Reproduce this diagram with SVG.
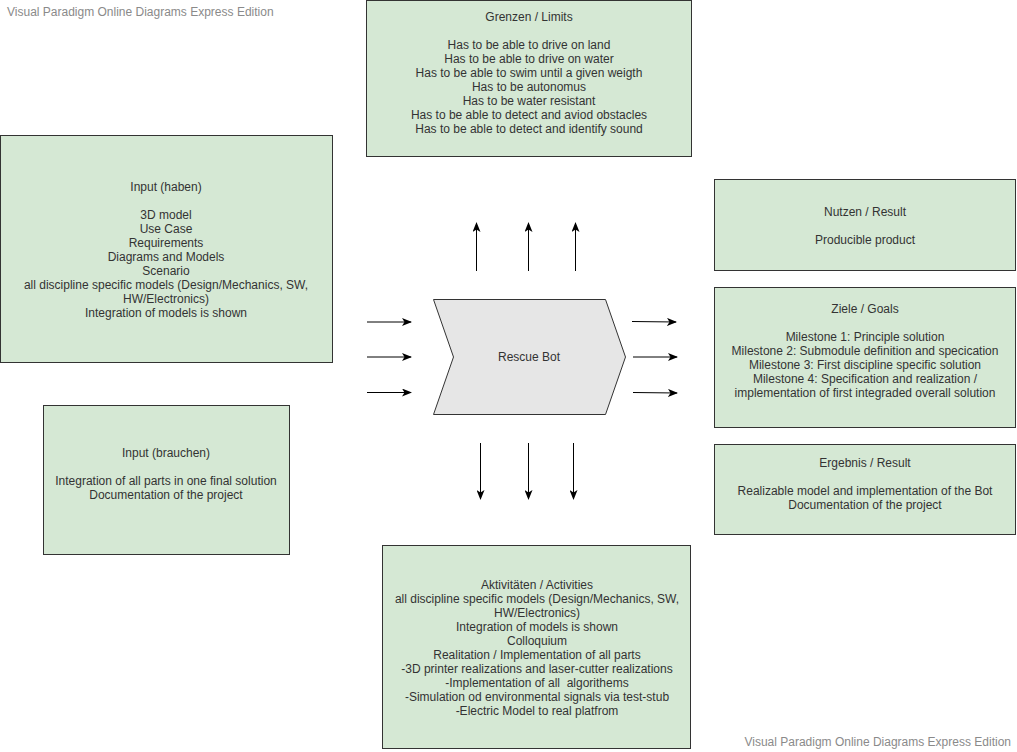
<svg xmlns="http://www.w3.org/2000/svg" width="1017" height="752" viewBox="0 0 1017 752">
  <style>
    .box { fill: #d5e8d4; stroke: #333333; stroke-width: 1; }
    .lbl { font-family: "Liberation Sans", Arial, sans-serif; font-size: 12px; fill: #333333; text-anchor: middle; }
    .wm { font-family: "Liberation Sans", Arial, sans-serif; font-size: 12px; fill: #8a8a8a; }
    .conn { stroke: #000000; stroke-width: 1; fill: none; marker-end: url(#arrow); }
  </style>
  <defs>
    <marker id="arrow" viewBox="0 0 10 8" refX="9" refY="4" markerWidth="10" markerHeight="8" markerUnits="userSpaceOnUse" orient="auto">
      <path d="M0,0 L10,4 L0,8 L2.5,4 z" fill="#000000"/>
    </marker>
  </defs>
  <rect width="1017" height="752" fill="#ffffff"/>

  <text class="wm" x="7" y="16">Visual Paradigm Online Diagrams Express Edition</text>
  <text class="wm" x="1011" y="746" text-anchor="end">Visual Paradigm Online Diagrams Express Edition</text>

  <g id="limits">
    <rect class="box" x="366.5" y="0.5" width="325" height="156"/>
    <text class="lbl" x="529" y="21">Grenzen / Limits</text>
    <text class="lbl" x="529" y="49">Has to be able to drive on land</text>
    <text class="lbl" x="529" y="63">Has to be able to drive on water</text>
    <text class="lbl" x="529" y="77">Has to be able to swim until a given weigth</text>
    <text class="lbl" x="529" y="91">Has to be autonomus</text>
    <text class="lbl" x="529" y="105">Has to be water resistant</text>
    <text class="lbl" x="529" y="119">Has to be able to detect and aviod obstacles</text>
    <text class="lbl" x="529" y="133">Has to be able to detect and identify sound</text>
  </g>

  <g id="input-haben">
    <rect class="box" x="0.5" y="135.5" width="332" height="227"/>
    <text class="lbl" x="166" y="191">Input (haben)</text>
    <text class="lbl" x="166" y="219">3D model</text>
    <text class="lbl" x="166" y="233">Use Case</text>
    <text class="lbl" x="166" y="247">Requirements</text>
    <text class="lbl" x="166" y="261">Diagrams and Models</text>
    <text class="lbl" x="166" y="275">Scenario</text>
    <text class="lbl" x="166" y="289">all discipline specific models (Design/Mechanics, SW,</text>
    <text class="lbl" x="166" y="303">HW/Electronics)</text>
    <text class="lbl" x="166" y="317">Integration of models is shown</text>
  </g>

  <g id="input-brauchen">
    <rect class="box" x="43.5" y="405.5" width="246" height="149"/>
    <text class="lbl" x="166" y="457">Input (brauchen)</text>
    <text class="lbl" x="166" y="485">Integration of all parts in one final solution</text>
    <text class="lbl" x="166" y="499">Documentation of the project</text>
  </g>

  <g id="rescue-bot">
    <polygon points="433.5,299.5 605.5,299.5 625.5,357 605.5,414.5 433.5,414.5 453.5,357" fill="#e6e6e6" stroke="#333333" stroke-width="1"/>
    <text class="lbl" x="529" y="361">Rescue Bot</text>
  </g>

  <g id="benefit">
    <rect class="box" x="714.5" y="179.5" width="301" height="91"/>
    <text class="lbl" x="865" y="216">Nutzen / Result</text>
    <text class="lbl" x="865" y="244">Producible product</text>
  </g>

  <g id="goals">
    <rect class="box" x="714.5" y="287.5" width="301" height="140"/>
    <text class="lbl" x="865" y="313">Ziele / Goals</text>
    <text class="lbl" x="865" y="341">Milestone 1: Principle solution</text>
    <text class="lbl" x="865" y="355">Milestone 2: Submodule definition and specication</text>
    <text class="lbl" x="865" y="369">Milestone 3: First discipline specific solution</text>
    <text class="lbl" x="865" y="383">Milestone 4: Specification and realization /</text>
    <text class="lbl" x="865" y="397">implementation of first integraded overall solution</text>
  </g>

  <g id="outcome">
    <rect class="box" x="714.5" y="444.5" width="301" height="90"/>
    <text class="lbl" x="865" y="467">Ergebnis / Result</text>
    <text class="lbl" x="865" y="495">Realizable model and implementation of the Bot</text>
    <text class="lbl" x="865" y="509">Documentation of the project</text>
  </g>

  <g id="activities">
    <rect class="box" x="382.5" y="545.5" width="308" height="203"/>
    <text class="lbl" x="537" y="589">Aktivitäten / Activities</text>
    <text class="lbl" x="537" y="603">all discipline specific models (Design/Mechanics, SW,</text>
    <text class="lbl" x="537" y="617">HW/Electronics)</text>
    <text class="lbl" x="537" y="631">Integration of models is shown</text>
    <text class="lbl" x="537" y="645">Colloquium</text>
    <text class="lbl" x="537" y="659">Realitation / Implementation of all parts</text>
    <text class="lbl" x="537" y="673">-3D printer realizations and laser-cutter realizations</text>
    <text class="lbl" x="537" y="687">-Implementation of all&#160; algorithems</text>
    <text class="lbl" x="537" y="701">-Simulation od environmental signals via test-stub</text>
    <text class="lbl" x="537" y="715">-Electric Model to real platfrom</text>
  </g>

  <g id="connectors">
    <!-- inputs -->
    <line class="conn" x1="367" y1="322" x2="411" y2="322"/>
    <line class="conn" x1="367" y1="357" x2="411" y2="357"/>
    <line class="conn" x1="367" y1="392.5" x2="411" y2="392.5"/>
    <!-- outputs -->
    <line class="conn" x1="632" y1="321.5" x2="676" y2="322"/>
    <line class="conn" x1="633" y1="357" x2="677" y2="357"/>
    <line class="conn" x1="633" y1="392.5" x2="677" y2="393"/>
    <!-- upward -->
    <line class="conn" x1="476.5" y1="271" x2="476.5" y2="223"/>
    <line class="conn" x1="528.5" y1="271" x2="528.5" y2="223"/>
    <line class="conn" x1="575.5" y1="271" x2="575.5" y2="223"/>
    <!-- downward -->
    <line class="conn" x1="480.5" y1="443" x2="480.5" y2="499"/>
    <line class="conn" x1="528.5" y1="443" x2="528.5" y2="499"/>
    <line class="conn" x1="573.5" y1="443" x2="573.5" y2="499"/>
  </g>
</svg>
